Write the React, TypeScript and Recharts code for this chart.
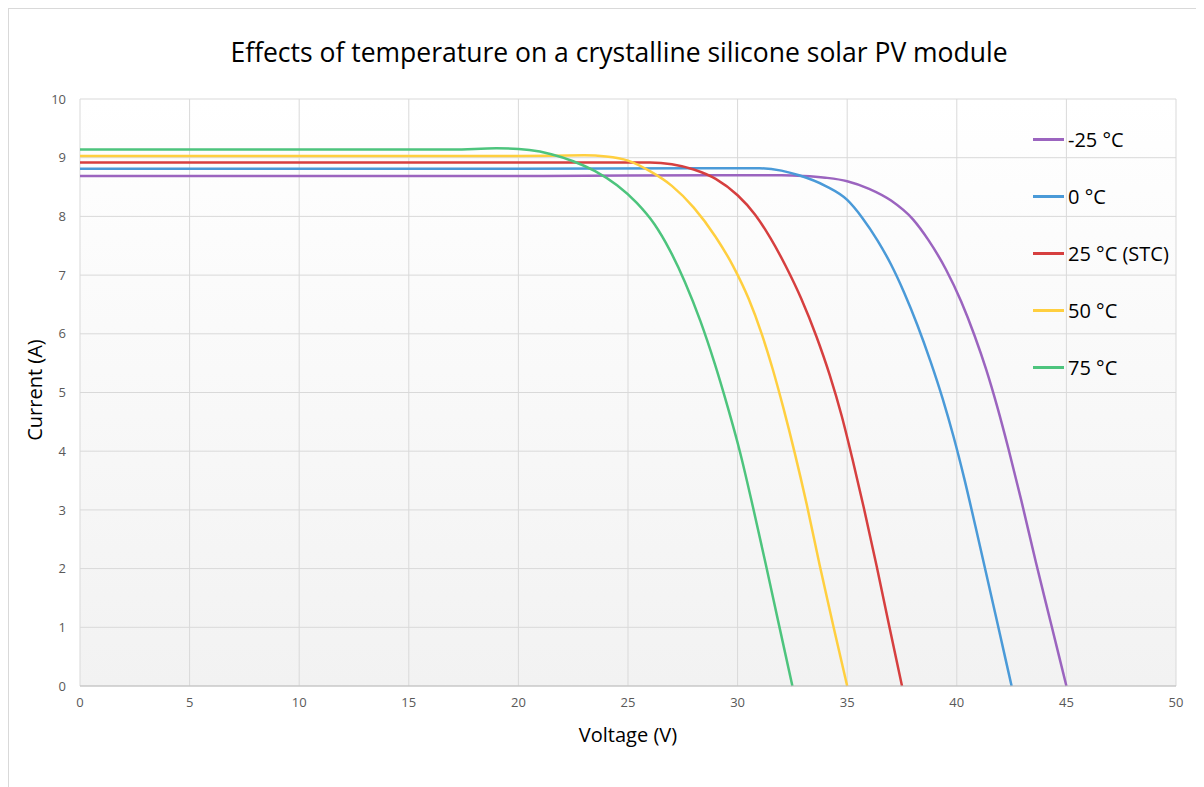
import { LineChart, Line, XAxis, YAxis, CartesianGrid, Legend } from "recharts";

// I-V curves of a crystalline silicon module at five cell temperatures.
// Values: [voltage V, current A].

type Pt = { v: number; i: number };
const toPts = (rows: number[][]): Pt[] => rows.map(([v, i]) => ({ v, i }));

const minus25 = toPts([
  [0, 8.69], [10, 8.69], [20, 8.69], [30, 8.7], [32, 8.7], [33, 8.69],
  [34, 8.66], [35, 8.6], [36, 8.47], [37, 8.27], [38, 7.95], [38.7, 7.6],
  [39.5, 7.1], [40.2, 6.55], [40.8, 5.98], [41.35, 5.38], [41.85, 4.75],
  [42.35, 4.05], [42.95, 3.15], [43.6, 2.12], [44.3, 1.06], [45, 0],
]);

const zero = toPts([
  [0, 8.81], [10, 8.81], [20, 8.81], [28, 8.82], [31, 8.82], [32, 8.78],
  [32.8, 8.7], [34, 8.52], [35, 8.28], [35.7, 7.97], [36.4, 7.58],
  [37.0, 7.18], [37.6, 6.7], [38.2, 6.15], [38.8, 5.53], [39.35, 4.9],
  [39.85, 4.25], [40.35, 3.52], [40.85, 2.72], [41.4, 1.82], [41.95, 0.91],
  [42.5, 0],
]);

const stc = toPts([
  [0, 8.92], [10, 8.92], [20, 8.92], [26, 8.92], [27, 8.89], [28, 8.8],
  [29, 8.64], [30, 8.36], [30.8, 8.03], [31.5, 7.63], [32.2, 7.15],
  [32.9, 6.6], [33.6, 5.95], [34.2, 5.3], [34.75, 4.6], [35.25, 3.85],
  [35.75, 3.05], [36.35, 2.03], [36.9, 1.05], [37.5, 0],
]);

const fifty = toPts([
  [0, 9.03], [10, 9.03], [20, 9.03], [23, 9.04], [24, 9.02], [25, 8.95],
  [26, 8.77], [27, 8.52], [28, 8.15], [29, 7.65], [29.8, 7.15], [30.5, 6.6],
  [31.1, 6.0], [31.6, 5.4], [32.1, 4.72], [32.6, 3.98], [33.15, 3.1],
  [33.75, 2.05], [34.38, 1.0], [35, 0],
]);

const seventyFive = toPts([
  [0, 9.14], [10, 9.14], [17, 9.14], [19, 9.16], [20.5, 9.13], [21.5, 9.06],
  [22.5, 8.94], [23.5, 8.77], [24.5, 8.53], [25.4, 8.23], [26.2, 7.87],
  [26.9, 7.43], [27.6, 6.88], [28.3, 6.22], [28.95, 5.5], [29.55, 4.75],
  [30.1, 4.0], [30.7, 3.05], [31.3, 2.05], [31.9, 1.02], [32.5, 0],
]);

const SERIES = [
  { name: "-25 °C", data: minus25, color: "#9B64BF" },
  { name: "0 °C", data: zero, color: "#4A9AD8" },
  { name: "25 °C (STC)", data: stc, color: "#D63F3F" },
  { name: "50 °C", data: fifty, color: "#FFCF3F" },
  { name: "75 °C", data: seventyFive, color: "#4DC47D" },
];

const X_TICKS = [0, 5, 10, 15, 20, 25, 30, 35, 40, 45, 50];
const Y_TICKS = [0, 1, 2, 3, 4, 5, 6, 7, 8, 9, 10];

const FONT = "'Open Sans', 'Noto Sans', sans-serif";

function LegendList({ payload }: any) {
  return (
    <div style={{ fontFamily: FONT }}>
      {(payload || []).map((p: any) => (
        <div
          key={p.value}
          style={{ height: 57, display: "flex", alignItems: "center" }}
        >
          <span
            style={{
              display: "inline-block",
              width: 31,
              height: 3,
              background: p.color,
              marginRight: 4,
            }}
          />
          <span style={{ fontSize: 20, color: "#000" }}>{p.value}</span>
        </div>
      ))}
    </div>
  );
}

export default function App() {
  return (
    <div
      style={{
        position: "relative",
        width: 1196,
        height: 779,
        boxSizing: "border-box",
        borderLeft: "1px solid #d9d9d9",
        borderTop: "1px solid #d9d9d9",
        background: "#fff",
        fontFamily: FONT,
      }}
    >
      <div
        style={{
          position: "absolute",
          top: 25,
          left: 34,
          width: 1152,
          textAlign: "center",
          fontSize: 26.5,
          lineHeight: "36px",
          color: "#000",
        }}
      >
        Effects of temperature on a crystalline silicone solar PV module
      </div>
      <div
        style={{
          position: "absolute",
          top: 367,
          left: -74,
          width: 200,
          height: 28,
          lineHeight: "28px",
          textAlign: "center",
          fontSize: 20,
          transform: "rotate(-90deg)",
        }}
      >
        Current (A)
      </div>
      <div
        style={{
          position: "absolute",
          top: 712,
          left: 519,
          width: 200,
          height: 28,
          lineHeight: "28px",
          textAlign: "center",
          fontSize: 20,
        }}
      >
        Voltage (V)
      </div>
      <LineChart
        width={1195}
        height={778}
        margin={{ top: 90, right: 28, left: 20, bottom: 71 }}
      >
        <defs>
          <linearGradient id="plotBg" x1="0" y1="0" x2="0" y2="1">
            <stop offset="0%" stopColor="#ffffff" />
            <stop offset="100%" stopColor="#f2f2f2" />
          </linearGradient>
        </defs>
        <CartesianGrid stroke="#d9d9d9" fill="url(#plotBg)" />
        <XAxis
          type="number"
          dataKey="v"
          domain={[0, 50]}
          ticks={X_TICKS}
          interval={0}
          height={30}
          tickLine={false}
          tickSize={0}
          tickMargin={12}
          axisLine={{ stroke: "#bfbfbf" }}
          tick={{ fill: "#595959", fontSize: 13, fontFamily: FONT }}
          allowDataOverflow
        />
        <YAxis
          type="number"
          dataKey="i"
          domain={[0, 10]}
          ticks={Y_TICKS}
          interval={0}
          width={51}
          tickLine={false}
          tickSize={0}
          tickMargin={14}
          axisLine={false}
          tick={{ fill: "#595959", fontSize: 13, fontFamily: FONT }}
        />
        <Legend
          layout="vertical"
          align="center"
          verticalAlign="middle"
          wrapperStyle={{ top: 102, left: 1024, width: 170 }}
          content={<LegendList />}
        />
        {SERIES.map((s) => (
          <Line
            key={s.name}
            name={s.name}
            data={s.data}
            dataKey="i"
            type="monotone"
            stroke={s.color}
            strokeWidth={2.5}
            dot={false}
            activeDot={false}
            isAnimationActive={false}
          />
        ))}
      </LineChart>
    </div>
  );
}
